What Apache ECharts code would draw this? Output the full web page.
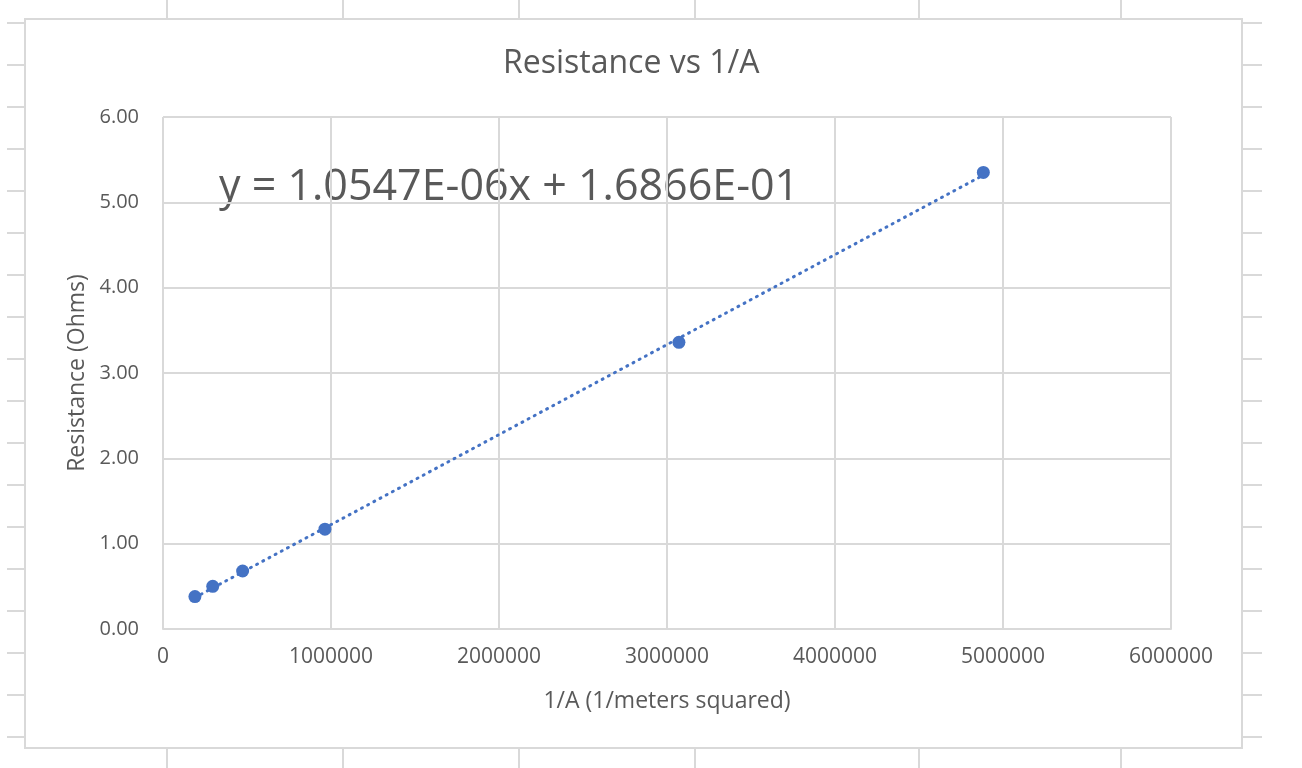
<!DOCTYPE html>
<html>
<head>
<meta charset="utf-8">
<script src="https://cdn.jsdelivr.net/npm/echarts@6/dist/echarts.min.js"></script>
<style>
	html, body { margin: 0; padding: 0; background: #fff; }
	#chart { width: 1302px; height: 768px; }
</style>
</head>
<body>
<div id="chart"></div>
<script>
// measured points: 1/A (1/m^2) and resistance (ohms)
var inverseArea = [190000, 296000, 474000, 964000, 3071000, 4883000];
var resistance = [0.38, 0.50, 0.68, 1.17, 3.36, 5.35];

// trendline coefficients shown on the chart
var slope = 1.0547E-06;
var intercept = 1.6866E-01;

var xTicks = [0, 1000000, 2000000, 3000000, 4000000, 5000000, 6000000];
var yTicks = [0, 1, 2, 3, 4, 5, 6];

var grey = '#595959';
var gridGrey = '#d9d9d9';
var font = '"Open Sans", sans-serif';

var points = [];
for (var i = 0; i < inverseArea.length; i++) {
	points.push([inverseArea[i], resistance[i]]);
}
var xFirst = Math.min.apply(null, inverseArea);
var xLast = Math.max.apply(null, inverseArea);
var trend = [
	[xFirst, slope * xFirst + intercept],
	[xLast, slope * xLast + intercept]
];

// spreadsheet cell lines peeking out around the chart box
var deco = [];
deco.push({
	type: 'rect',
	shape: { x: 25, y: 19, width: 1217, height: 729 },
	style: { fill: 'none', stroke: gridGrey, lineWidth: 2 },
	silent: true
});
[167, 343, 519, 695, 919, 1121].forEach(function(x){
	deco.push({ type: 'line', shape: { x1: x, y1: 0, x2: x, y2: 19 }, style: { stroke: gridGrey, lineWidth: 2 }, silent: true });
	deco.push({ type: 'line', shape: { x1: x, y1: 748, x2: x, y2: 768 }, style: { stroke: gridGrey, lineWidth: 2 }, silent: true });
});
for (var r = 23; r <= 740; r += 42) {
	deco.push({ type: 'line', shape: { x1: 7, y1: r, x2: 25, y2: r }, style: { stroke: gridGrey, lineWidth: 2 }, silent: true });
	deco.push({ type: 'line', shape: { x1: 1242, y1: r, x2: 1262, y2: r }, style: { stroke: gridGrey, lineWidth: 2 }, silent: true });
}
deco.push({
	type: 'text',
	left: 219,
	top: 166,
	style: {
		text: 'y = 1.0547E-06x + 1.6866E-01',
		fill: grey,
		font: '43px ' + font
	},
	silent: true
});
deco.push({
	type: 'text',
	left: 503,
	top: 48,
	style: {
		text: 'Resistance vs 1/A',
		fill: grey,
		font: '32px ' + font
	},
	silent: true
});

var chart = echarts.init(document.getElementById('chart'));
chart.setOption({
	backgroundColor: '#fff',
	animation: false,
	grid: { left: 163, right: 131, top: 117, bottom: 139 },
	xAxis: {
		type: 'value',
		min: xTicks[0],
		max: xTicks[xTicks.length - 1],
		interval: xTicks[1] - xTicks[0],
		name: '1/A (1/meters squared)',
		nameLocation: 'middle',
		nameGap: 61,
		nameTextStyle: { color: grey, fontSize: 23, fontFamily: font },
		axisLine: { show: true, lineStyle: { color: gridGrey, width: 2 } },
		axisTick: { show: false },
		axisLabel: {
			color: grey, fontSize: 21, fontFamily: font, margin: 18,
			formatter: function(v){ return String(v); }
		},
		splitLine: { show: true, lineStyle: { color: gridGrey, width: 2 } }
	},
	yAxis: {
		type: 'value',
		min: yTicks[0],
		max: yTicks[yTicks.length - 1],
		interval: yTicks[1] - yTicks[0],
		name: 'Resistance (Ohms)',
		nameLocation: 'middle',
		nameGap: 73,
		nameTextStyle: { color: grey, fontSize: 23, fontFamily: font },
		axisLine: { show: false },
		axisTick: { show: false },
		axisLabel: {
			color: grey, fontSize: 20, fontFamily: font, margin: 24,
			formatter: function(v){ return v.toFixed(2); }
		},
		splitLine: { show: true, lineStyle: { color: gridGrey, width: 2 } }
	},
	series: [
		{
			name: 'Trendline',
			type: 'line',
			data: trend,
			showSymbol: false,
			z: 2,
			lineStyle: { color: '#4472C4', width: 3, type: [1, 6], cap: 'round' }
		},
		{
			name: 'Resistance',
			type: 'scatter',
			data: points,
			symbol: 'circle',
			symbolSize: 13,
			z: 3,
			itemStyle: { color: '#4472C4', opacity: 1 }
		}
	],
	graphic: deco
});
</script>
</body>
</html>
